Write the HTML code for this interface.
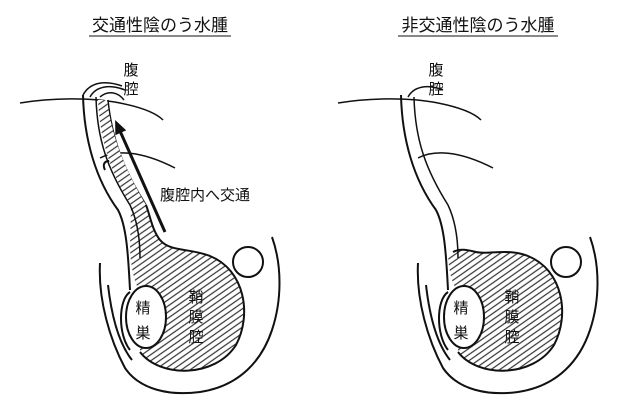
<!DOCTYPE html>
<html><head><meta charset="utf-8"><style>
html,body{margin:0;padding:0;background:#fff;}
svg{display:block}
text{font-family:"Liberation Sans","Noto Sans CJK JP",sans-serif;fill:#111}
</style></head><body>
<svg width="640" height="416" viewBox="0 0 640 416" xmlns="http://www.w3.org/2000/svg">
<defs>
<pattern id="h" width="5" height="5" patternUnits="userSpaceOnUse" patternTransform="rotate(-35)">
<rect width="5" height="5" fill="#fff"/><line x1="0" y1="2" x2="5" y2="2" stroke="#333" stroke-width="1.2"/>
</pattern>
<marker id="a" markerWidth="14" markerHeight="12" refX="2" refY="6" orient="auto" markerUnits="userSpaceOnUse"><path d="M0,0 L14,6 L0,12 Z" fill="#111"/></marker>
</defs>
<text x="160" y="31" font-size="17" text-anchor="middle">交通性陰のう水腫</text>
<line x1="89" y1="36" x2="231" y2="36" stroke="#111" stroke-width="1"/>
<text x="478" y="31" font-size="17" text-anchor="middle">非交通性陰のう水腫</text>
<line x1="398" y1="36" x2="558" y2="36" stroke="#111" stroke-width="1"/>

<g id="L" fill="none" stroke="#111" stroke-width="2">
<path d="M130,250 C131,265 133,280 140,292 L140,352 C160,378 215,378 236,345 C252,315 245,270 210,256 C190,248 170,252 160,240 C152,230 150,215 146,205 L131,205 Z" fill="url(#h)" stroke="none"/>
<path d="M140,352 C160,378 215,378 236,345 C252,315 245,270 210,256 C190,248 170,252 160,240 C152,230 150,215 146,205"/>
<ellipse cx="146" cy="317" rx="20" ry="31" fill="#fff"/>
<path d="M100,263 C98,300 110,340 125,368 C140,390 170,396 200,392 C240,386 262,360 272,330 C282,300 282,265 272,237"/>
<path d="M108,285 C112,320 120,345 132,360"/>
<path d="M130,292 C118,300 118,335 130,350"/>
<circle cx="248" cy="262" r="15"/>
<path d="M83,95 C84,140 96,180 118,210 C126,225 128,250 130,290"/>
<path d="M96,97 C97,140 108,170 130,205 C138,222 140,240 140,258" stroke-width="1.5"/>
<path d="M83,95 C90,82 105,80 122,86" stroke-width="1.5"/>
<path d="M90,97 C96,86 110,84 125,90" stroke-width="1.5"/>
<path d="M100,97 C108,90 118,92 124,100" stroke-width="1.5"/>
<path d="M108,100 C112,140 125,170 140,195 C145,203 146,205 146,205" stroke-width="1.5"/>
<path d="M20,103 C50,98 90,97 120,103 C140,107 155,112 163,120" stroke-width="1.5"/>
<path d="M100,158 C115,150 140,150 175,168" stroke-width="1.5"/>
<path d="M105,170 C100,160 112,158 118,165"/>
</g>
<path d="M98,100 C100,140 110,172 131,205 L146,205 C128,175 112,140 107,100 Z" fill="url(#h)" stroke="none"/>
<line x1="165" y1="232" x2="120" y2="131" stroke="#111" stroke-width="3" marker-end="url(#a)"/>

<g transform="translate(318,0)" fill="none" stroke="#111" stroke-width="2">
<path d="M130,255 C131,270 133,282 140,292 L140,352 C160,378 215,378 236,345 C252,315 245,270 210,256 C190,248 170,255 158,252 C150,250 142,248 135,252 Z" fill="url(#h)" stroke="none"/>
<path d="M140,352 C160,378 215,378 236,345 C252,315 245,270 210,256 C190,248 170,255 158,252 C150,250 142,248 135,252"/>
<ellipse cx="146" cy="317" rx="20" ry="31" fill="#fff"/>
<path d="M100,263 C98,300 110,340 125,368 C140,390 170,396 200,392 C240,386 262,360 272,330 C282,300 282,265 272,237"/>
<path d="M108,285 C112,320 120,345 132,360"/>
<path d="M130,292 C118,300 118,335 130,350"/>
<circle cx="248" cy="262" r="15"/>
<path d="M83,95 C84,140 96,180 118,210 C126,225 128,250 130,290"/>
<path d="M96,97 C97,140 108,170 130,205 C138,222 140,240 140,258" stroke-width="1.5"/>
<path d="M90,97 C96,86 110,84 125,90" stroke-width="1.5"/>
<path d="M20,103 C50,98 90,97 120,103 C140,107 155,112 163,120" stroke-width="1.5"/>
<path d="M100,158 C115,150 140,150 175,168" stroke-width="1.5"/>
</g>

<g font-size="15">
<text x="131" y="75" text-anchor="middle">腹</text><text x="131" y="94" text-anchor="middle">腔</text>
<text x="160" y="200">腹腔内へ交通</text>
<text x="143" y="313" text-anchor="middle">精</text><text x="143" y="338" text-anchor="middle">巣</text>
<text x="196" y="302" text-anchor="middle">鞘</text><text x="196" y="322" text-anchor="middle">膜</text><text x="196" y="342" text-anchor="middle">腔</text>
<text x="436" y="75" text-anchor="middle">腹</text><text x="436" y="94" text-anchor="middle">腔</text>
<text x="461" y="313" text-anchor="middle">精</text><text x="461" y="338" text-anchor="middle">巣</text>
<text x="512" y="302" text-anchor="middle">鞘</text><text x="512" y="322" text-anchor="middle">膜</text><text x="512" y="342" text-anchor="middle">腔</text>
</g>
</svg>
</body></html>
